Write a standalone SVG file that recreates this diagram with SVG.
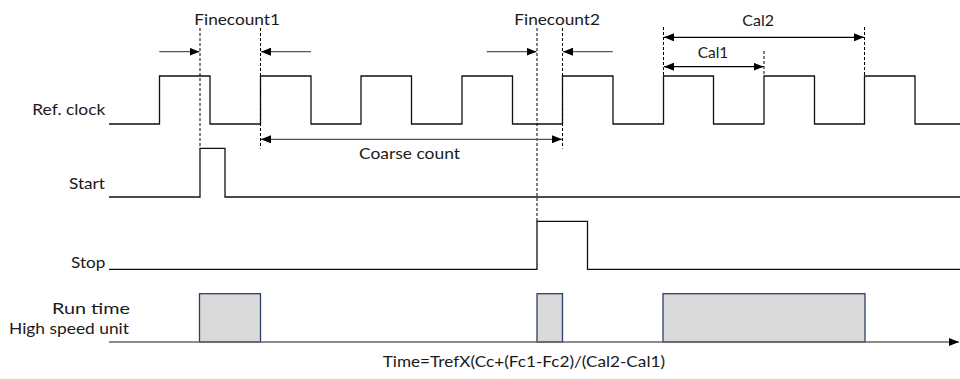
<svg xmlns="http://www.w3.org/2000/svg" width="960" height="379" viewBox="0 0 960 379">
  <defs>
    <marker id="head" viewBox="0 0 10 8" refX="10" refY="4" markerWidth="10" markerHeight="8" markerUnits="userSpaceOnUse" orient="auto-start-reverse">
      <path d="M0,0 L10,4 L0,8 Z" fill="#000"/>
    </marker>
    <style>
      .lbl { font-family: Lato, "Liberation Sans", sans-serif; font-size: 15px; fill: #1a1a1a; }
      .wave { fill: none; stroke: #111; stroke-width: 1.3; }
      .guide { fill: none; stroke: #000; stroke-width: 1; stroke-dasharray: 3 2; }
      .span { fill: none; stroke: #555; stroke-width: 1.3; }
      .cal { fill: none; stroke: #000; stroke-width: 1.2; }
      .busy { fill: #d9d9d9; stroke: #2b3f6b; stroke-width: 1.3; }
      .axis { fill: none; stroke: #666; stroke-width: 1.5; }
    </style>
  </defs>

  <!-- signal names -->
  <g id="signal-labels">
    <text class="lbl" x="32.3" y="115" textLength="73" lengthAdjust="spacingAndGlyphs">Ref. clock</text>
    <text class="lbl" x="69" y="189.3" textLength="36" lengthAdjust="spacingAndGlyphs">Start</text>
    <text class="lbl" x="71" y="268" textLength="34.3" lengthAdjust="spacingAndGlyphs">Stop</text>
    <text class="lbl" x="52" y="313.5" textLength="78" lengthAdjust="spacingAndGlyphs">Run time</text>
    <text class="lbl" x="9" y="334" textLength="120" lengthAdjust="spacingAndGlyphs">High speed unit</text>
  </g>

  <!-- reference clock -->
  <g id="ref-clock">
    <path class="wave" d="M109,124 H159.5 V76 H210 V124 H260.5 V76 H311 V124 H361 V76 H411.5 V124 H462 V76 H512.5 V124 H562.5 V76 H613 V124 H663.5 V76 H713.5 V124 H764 V76 H814.5 V124 H864.5 V76 H915 V124 H960"/>
  </g>

  <!-- start pulse -->
  <g id="start">
    <path class="wave" d="M109,197 H200 V148.3 H225 V197 H960"/>
  </g>

  <!-- stop pulse -->
  <g id="stop">
    <path class="wave" d="M109,269.3 H537 V221.3 H587.5 V269.3 H960"/>
  </g>

  <!-- high speed unit activity -->
  <g id="run-time">
    <rect class="busy" x="199.5" y="293.7" width="61" height="48.3"/>
    <rect class="busy" x="537" y="293.7" width="25.5" height="48.3"/>
    <rect class="busy" x="663" y="293.7" width="202" height="48.3"/>
  </g>

  <!-- time axis -->
  <g id="time-axis">
    <line class="axis" x1="109" y1="342" x2="959" y2="342" marker-end="url(#head)"/>
  </g>

  <!-- edge markers -->
  <g id="guides">
    <line class="guide" x1="200" y1="28" x2="200" y2="148.3"/>
    <line class="guide" x1="260.5" y1="28" x2="260.5" y2="148.5"/>
    <line class="guide" x1="537" y1="28" x2="537" y2="221.3"/>
    <line class="guide" x1="562.5" y1="28" x2="562.5" y2="148.5"/>
    <line class="guide" x1="663.5" y1="27" x2="663.5" y2="76"/>
    <line class="guide" x1="764" y1="51" x2="764" y2="76"/>
    <line class="guide" x1="864.5" y1="27" x2="864.5" y2="76"/>
  </g>

  <!-- measurement arrows -->
  <g id="connectors">
    <line class="span" x1="159.3" y1="51.7" x2="199.5" y2="51.7" marker-end="url(#head)"/>
    <line class="span" x1="311" y1="51.7" x2="261" y2="51.7" marker-end="url(#head)"/>
    <line class="span" x1="486.7" y1="51.7" x2="536.5" y2="51.7" marker-end="url(#head)"/>
    <line class="span" x1="612.7" y1="51.7" x2="563" y2="51.7" marker-end="url(#head)"/>
    <line class="span" x1="261" y1="139.3" x2="562" y2="139.3" marker-start="url(#head)" marker-end="url(#head)"/>
    <line class="cal" x1="664" y1="37.3" x2="864" y2="37.3" marker-start="url(#head)" marker-end="url(#head)"/>
    <line class="cal" x1="664" y1="66.7" x2="763.5" y2="66.7" marker-start="url(#head)" marker-end="url(#head)"/>
  </g>

  <!-- interval names -->
  <g id="interval-labels">
    <text class="lbl" x="194.3" y="25" textLength="85.7" lengthAdjust="spacingAndGlyphs">Finecount1</text>
    <text class="lbl" x="514.3" y="25" textLength="85.7" lengthAdjust="spacingAndGlyphs">Finecount2</text>
    <text class="lbl" x="742.3" y="25.5" textLength="31.7" lengthAdjust="spacingAndGlyphs">Cal2</text>
    <text class="lbl" x="697.7" y="57.5" textLength="30.6" lengthAdjust="spacingAndGlyphs">Cal1</text>
    <text class="lbl" x="359" y="159.3" textLength="101" lengthAdjust="spacingAndGlyphs">Coarse count</text>
  </g>

  <!-- result -->
  <g id="formula">
    <text class="lbl" x="382.7" y="367" textLength="282.3" lengthAdjust="spacingAndGlyphs">Time=TrefX(Cc+(Fc1-Fc2)/(Cal2-Cal1)</text>
  </g>
</svg>
